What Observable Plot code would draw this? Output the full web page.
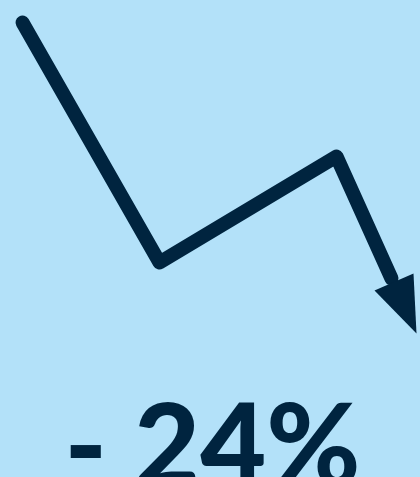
<!DOCTYPE html>
<html>
<head>
<meta charset="utf-8">
<script src="https://cdn.jsdelivr.net/npm/d3@7"></script>
<script src="https://cdn.jsdelivr.net/npm/@observablehq/plot@0.6"></script>
<style>
  html, body { margin: 0; padding: 0; background: #b3e1f9; overflow: hidden; }
  #chart svg { display: block; }
</style>
</head>
<body>
<div id="chart"></div>
<script>
// Trend line vertices (x, y in a 420×477 canvas space, y downward)
const trendX = [22, 159, 336, 391];
const trendY = [22, 262, 156, 278];
// Arrowhead triangle
const headX = [374, 416, 413];
const headY = [290, 333, 273];
// Label
const labelText = ["- 24%"];
const labelX = [212];
const labelY = [485];

const dark = "#00243f";
const bg = "#b3e1f9";

const trend = trendX.map((x, i) => ({x, y: trendY[i]}));
const head = headX.map((x, i) => ({x, y: headY[i]}));
const label = labelText.map((t, i) => ({t, x: labelX[i], y: labelY[i]}));

const chart = Plot.plot({
  width: 420,
  height: 477,
  margin: 0,
  style: {background: bg, overflow: "visible"},
  x: {domain: [0, 420], range: [0, 420], axis: null},
  y: {domain: [0, 477], range: [0, 477], axis: null},
  marks: [
    Plot.line(trend, {x: "x", y: "y", stroke: dark, strokeWidth: 14, strokeLinejoin: "round", strokeLinecap: "round"}),
    Plot.line(head, {x: "x", y: "y", fill: dark, stroke: null}),
    Plot.text(label, {x: "x", y: "y", text: "t", fill: dark, fontSize: 114, fontWeight: 900, fontFamily: "Lato", lineAnchor: "bottom", textAnchor: "middle"})
  ]
});
document.getElementById("chart").appendChild(chart);
</script>
</body>
</html>
